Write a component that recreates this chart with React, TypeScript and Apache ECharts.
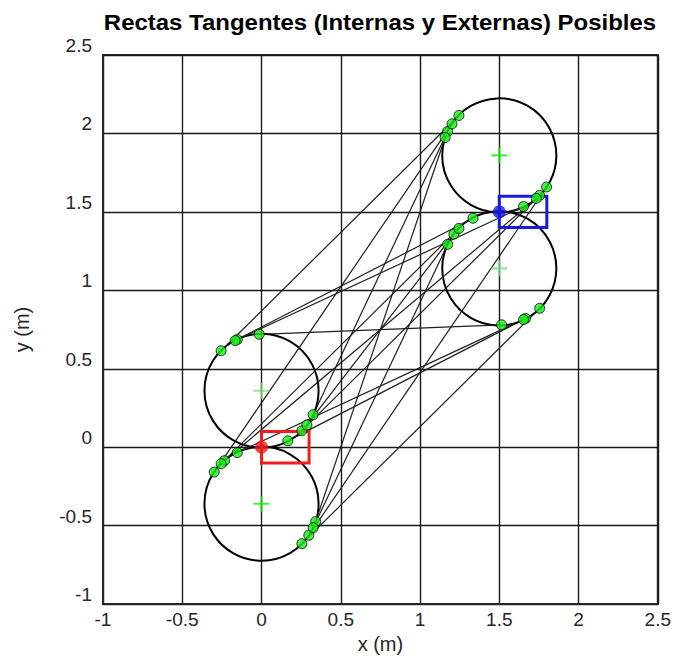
import React, { useEffect, useRef } from "react";
import * as echarts from "echarts";

const titleText = "Rectas Tangentes (Internas y Externas) Posibles";
const xTicks = [-1, -0.5, 0, 0.5, 1, 1.5, 2, 2.5];
const yTicks = [-1, -0.5, 0, 0.5, 1, 1.5, 2, 2.5];
const xName = "x (m)";
const yName = "y (m)";

const turnRadius = 0.36;
const circleCenterX = [0, 0, 1.5, 1.5];
const circleCenterY = [0.36, -0.36, 1.86, 1.14];
const plusColors = ["#7fdc7f", "#11f011", "#11f011", "#7fdc7f"];

// tangent segments [x1, y1, x2, y2]
const tangentSegments = [
  [-0.2546, 0.6146, 1.2454, 2.1146],
  [0.2546, 0.1054, 1.7546, 1.6054],
  [-0.153, 0.6858, 1.653, 1.5342],
  [0.3258, 0.207, 1.1742, 2.013],
  [-0.1661, 0.6794, 1.3339, 1.4594],
  [0.1661, 0.0406, 1.6661, 0.8206],
  [-0.0142, 0.7197, 1.5142, 0.7803],
  [0.2863, 0.1418, 1.2137, 1.3582],
  [-0.2983, -0.1585, 1.2017, 2.0615],
  [0.2983, -0.5615, 1.7983, 1.6585],
  [-0.2332, -0.0858, 1.7332, 1.5858],
  [0.3415, -0.474, 1.1585, 1.974],
  [-0.2546, -0.1054, 1.2454, 1.3946],
  [0.2546, -0.6146, 1.7546, 0.8854],
  [-0.153, -0.0342, 1.653, 0.8142],
  [0.3258, -0.513, 1.1742, 1.293],
];

const startPoint = [0, 0];
const goalPoint = [1.5, 1.5];
const startBox = [0, -0.1, 0.3, 0.1];
const goalBox = [1.5, 1.4, 1.8, 1.6];

const FONT = "'Liberation Sans', Arial, sans-serif";

export default function App() {
  const ref = useRef<HTMLDivElement>(null);
  useEffect(() => {
    if (!ref.current) return;
    const chart = echarts.init(ref.current, null, { renderer: "svg" });
    const axisCommon = {
      type: "value",
      interval: 0.5,
      axisTick: { show: false },
      axisLine: { show: true, onZero: false, lineStyle: { color: "#262626", width: 2 } },
      splitLine: { show: true, lineStyle: { color: "#1a1a1a", width: 1.4 } },
    };
    const dots: number[][] = [];
    tangentSegments.forEach((s) => {
      dots.push([s[0], s[1]]);
      dots.push([s[2], s[3]]);
    });
    chart.setOption({
      animation: false,
      backgroundColor: "#ffffff",
      graphic: [
        {
          type: "text",
          x: 380,
          y: 22,
          scaleX: 1.09,
          style: {
            text: titleText,
            fill: "#000",
            font: `bold 22px ${FONT}`,
            textAlign: "center",
            textVerticalAlign: "middle",
          },
        },
      ],
      grid: {
        left: 103,
        right: 16,
        top: 55,
        bottom: 49,
        show: true,
        borderColor: "#262626",
        borderWidth: 2,
        backgroundColor: "#fff",
      },
      xAxis: {
        ...axisCommon,
        min: xTicks[0],
        max: xTicks[xTicks.length - 1],
        name: xName,
        nameLocation: "middle",
        nameGap: 24,
        nameTextStyle: { fontSize: 20, color: "#262626", fontFamily: FONT },
        axisLabel: {
          margin: 6,
          fontSize: 19,
          color: "#262626",
          fontFamily: FONT,
          showMinLabel: true,
          showMaxLabel: true,
        },
      },
      yAxis: {
        ...axisCommon,
        min: yTicks[0],
        max: yTicks[yTicks.length - 1],
        name: yName,
        nameLocation: "middle",
        nameGap: 71,
        nameTextStyle: { fontSize: 20, color: "#262626", fontFamily: FONT },
        axisLabel: {
          margin: 11,
          fontSize: 19,
          color: "#262626",
          fontFamily: FONT,
          verticalAlign: "bottom",
          showMinLabel: true,
          showMaxLabel: true,
        },
      },
      series: [
        {
          type: "custom",
          name: "circles",
          z: 2,
          encode: { x: 0, y: 1 },
          data: circleCenterX.map((cx, i) => [cx, circleCenterY[i], turnRadius]),
          renderItem: (params: any, api: any) => {
            const c = api.coord([api.value(0), api.value(1)]);
            const s = api.size([api.value(2), api.value(2)]);
            return {
              type: "circle",
              shape: { cx: c[0], cy: c[1], r: s[0] },
              style: { fill: "none", stroke: "#000", lineWidth: 2 },
            };
          },
        },
        {
          type: "custom",
          name: "tangents",
          z: 3,
          encode: { x: [0, 2], y: [1, 3] },
          data: tangentSegments,
          renderItem: (params: any, api: any) => {
            const p1 = api.coord([api.value(0), api.value(1)]);
            const p2 = api.coord([api.value(2), api.value(3)]);
            return {
              type: "line",
              shape: { x1: p1[0], y1: p1[1], x2: p2[0], y2: p2[1] },
              style: { stroke: "#1e1e1e", lineWidth: 1.2 },
            };
          },
        },
        {
          type: "custom",
          name: "boxes",
          z: 4,
          encode: { x: [0, 2], y: [1, 3] },
          data: [
            [...startBox, 0],
            [...goalBox, 1],
          ],
          renderItem: (params: any, api: any) => {
            const a = api.coord([api.value(0), api.value(3)]);
            const b = api.coord([api.value(2), api.value(1)]);
            const color = api.value(4) === 0 ? "#ee1c1c" : "#1818e0";
            return {
              type: "rect",
              shape: { x: a[0], y: a[1], width: b[0] - a[0], height: b[1] - a[1] },
              style: { fill: "none", stroke: color, lineWidth: 3 },
            };
          },
        },
        {
          type: "scatter",
          name: "centers",
          z: 5,
          symbol:
            "path://M-1,-0.13 L-0.13,-0.13 L-0.13,-1 L0.13,-1 L0.13,-0.13 L1,-0.13 L1,0.13 L0.13,0.13 L0.13,1 L-0.13,1 L-0.13,0.13 L-1,0.13 Z",
          symbolSize: 16,
          data: circleCenterX.map((cx, i) => ({
            value: [cx, circleCenterY[i]],
            itemStyle: { color: plusColors[i] },
          })),
        },
        {
          type: "scatter",
          name: "tangentPoints",
          z: 6,
          symbol: "circle",
          symbolSize: 10,
          itemStyle: { color: "#19ec19", borderColor: "#0a0a0a", borderWidth: 1 },
          data: dots,
        },
        {
          type: "scatter",
          name: "start",
          z: 7,
          symbolSize: 13,
          itemStyle: { color: "#ee1c1c" },
          data: [startPoint],
        },
        {
          type: "scatter",
          name: "goal",
          z: 7,
          symbolSize: 13,
          itemStyle: { color: "#1818e0" },
          data: [goalPoint],
        },
      ],
    });
    return () => chart.dispose();
  }, []);
  return (
    <div
      ref={ref}
      style={{ position: "fixed", left: 0, top: 0, width: 674, height: 659 }}
    />
  );
}
